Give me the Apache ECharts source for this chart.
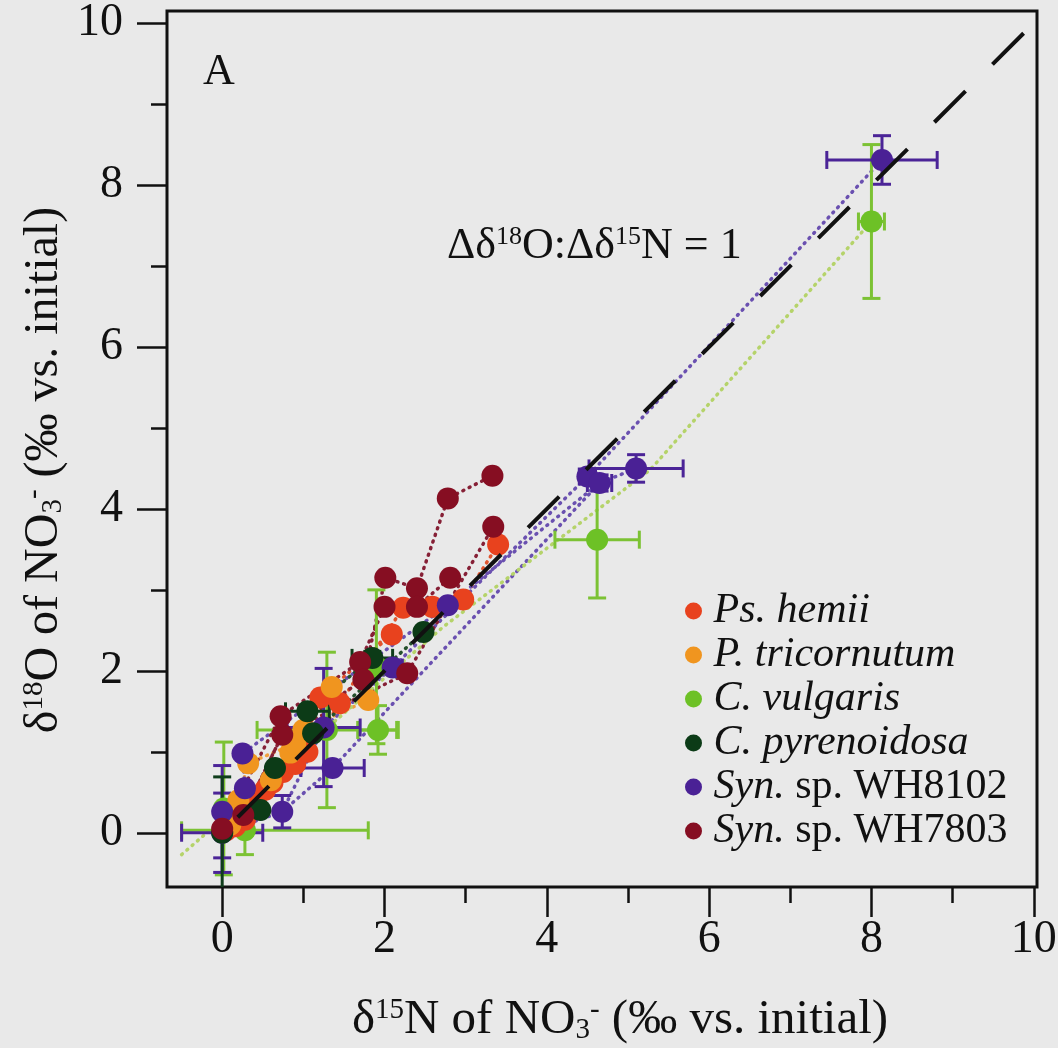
<!DOCTYPE html>
<html>
<head>
<meta charset="utf-8">
<script src="https://cdn.jsdelivr.net/npm/echarts@6/dist/echarts.min.js"></script>
<style>
  html, body { margin: 0; padding: 0; background: #e9e9e9; }
  #chart { width: 1058px; height: 1048px; }
</style>
</head>
<body>
<div id="chart"></div>
<script>
// Axis ticks (‰ vs. initial)
const xMajorTicks = [0, 2, 4, 6, 8, 10];
const xMinorTicks = [1, 3, 5, 7, 9];
const yMajorTicks = [0, 2, 4, 6, 8, 10];
const yMinorTicks = [1, 3, 5, 7, 9];

const speciesNames = ['Ps. hemii', 'P. tricornutum', 'C. vulgaris', 'C. pyrenoidosa', 'Syn. sp. WH8102', 'Syn. sp. WH7803'];

// Each point: [δ15N, δ18O, ±δ15N, ±δ18O]; an error may be [minus, plus]; 0 = no bar
const psHemii = [
  [0.05, 0.03, 0, 0], [0.16, 0.08, 0, 0], [0.28, 0.16, 0, 0], [0.42, 0.35, 0, 0],
  [0.53, 0.53, 0, 0], [0.62, 0.62, 0, 0], [0.75, 0.75, 0, 0], [0.90, 0.85, 0, 0],
  [1.05, 1.00, 0, 0], [1.21, 1.67, 0, 0], [1.45, 1.60, 0, 0], [2.09, 2.45, 0, 0],
  [2.23, 2.78, 0, 0], [2.59, 2.79, 0, 0], [2.97, 2.88, 0, 0], [3.40, 3.56, 0, 0]
];
const pTricornutum = [
  [0.10, 0.10, 0, 0], [0.20, 0.40, 0, 0], [0.32, 0.86, 0, 0], [0.60, 0.65, 0, 0],
  [0.84, 0.99, 0, 0], [0.90, 1.10, 0, 0], [1.00, 1.27, 0, 0], [1.35, 1.80, 0, 0],
  [1.80, 1.64, 0, 0]
];
const cVulgaris = [
  [0.02, 0.30, 0, 0.82], [0.28, 0.03, [0.78, 1.52], 0.30], [1.29, 1.27, 0.86, 0.96],
  [1.92, 1.27, 0.25, 0.30], [1.90, 2.05, 0.10, 0.95], [4.62, 3.62, 0.52, 0.72],
  [8.00, 7.55, 0.16, 0.95]
];
const cPyrenoidosa = [
  [0.00, 0.00, 0, 0.69], [0.47, 0.28, 0, 0], [0.65, 0.80, 0, 0], [1.05, 1.50, 0.27, 0],
  [1.12, 1.23, 0, 0], [1.85, 2.16, 0.25, 0.08], [2.48, 2.48, 0, 0]
];
const syn8102 = [
  [0.00, 0.00, 0.50, 0.49], [0.00, 0.26, 0, 0.57], [0.25, 0.98, 0, 0], [0.28, 0.55, 0, 0],
  [0.74, 0.26, 0, 0.20], [1.25, 1.30, 0.45, 0.73], [1.36, 0.80, 0.39, 0], [2.10, 2.04, 0.12, 0],
  [2.78, 2.81, 0, 0], [4.50, 4.40, 0.10, 0.08], [4.65, 4.32, 0.15, 0.10], [5.10, 4.50, 0.58, 0.17],
  [8.13, 8.31, 0.68, 0.30]
];
const syn7803 = [
  [0.00, 0.05, 0, 0], [0.26, 0.22, 0, 0], [0.74, 1.21, 0, 0], [0.72, 1.44, 0, 0],
  [1.70, 2.11, 0, 0], [1.74, 1.89, 0, 0], [2.01, 3.15, 0, 0], [2.40, 3.02, 0, 0],
  [2.78, 4.13, 0, 0], [3.33, 4.41, 0, 0], [2.00, 2.79, 0, 0], [2.40, 2.79, 0, 0],
  [2.81, 3.15, 0, 0], [3.34, 3.78, 0, 0], [2.28, 1.97, 0, 0]
];

// Culture runs: indices of the points joined by dotted lines
const psHemiiRuns = [[0, 2, 4, 6, 8, 10, 12, 13, 14, 15], [1, 3, 5, 7, 9, 11]];
const pTricornutumRuns = [[0, 1, 2, 5, 7], [0, 3, 4, 6, 8]];
const cPyrenoidosaRuns = [[0, 1, 2, 4, 6], [0, 2, 3, 5]];
const syn8102Runs = [[0, 4, 5, 7, 9, 12], [1, 3, 2, 8, 10, 11], [4, 6, 10]];
const syn7803Runs = [[0, 1, 2, 5, 6, 7, 8, 9], [0, 3, 4, 10, 11, 12], [1, 2, 14, 13]];

// C. vulgaris trend and the 1:1 reference line
const cVulgarisTrend = [[-0.5, -0.27], [2.72, 2.54], [5.27, 4.48], [8.0, 7.55]];
const oneToOne = [[0, 0], [9.9, 9.9]];

const serif = "'Liberation Serif', 'Times New Roman', serif";
const ink = '#111111';

const species = [
  { name: 'C. vulgaris',     pts: cVulgaris,     runs: [],               color: '#6dc126', line: '#b5d36a', err: '#7cc234' },
  { name: 'Ps. hemii',       pts: psHemii,       runs: psHemiiRuns,      color: '#e8421e', line: '#e0552e', err: '#e8421e' },
  { name: 'P. tricornutum',  pts: pTricornutum,  runs: pTricornutumRuns, color: '#f0951f', line: '#f0a040', err: '#f0951f' },
  { name: 'Syn. sp. WH8102', pts: syn8102,       runs: syn8102Runs,      color: '#4a2195', line: '#6a50b0', err: '#4b2497' },
  { name: 'C. pyrenoidosa',  pts: cPyrenoidosa,  runs: cPyrenoidosaRuns, color: '#0c3b17', line: '#24502c', err: '#0f3d1b' },
  { name: 'Syn. sp. WH7803', pts: syn7803,       runs: syn7803Runs,      color: '#860e22', line: '#862036', err: '#860e22' }
];

const pair = e => Array.isArray(e) ? e : [e, e];

function errorBars(sp) {
  const rows = sp.pts
    .filter(p => pair(p[2])[1] > 0 || pair(p[3])[1] > 0)
    .map(p => [p[0], p[1], ...pair(p[2]), ...pair(p[3])]);
  return {
    type: 'custom',
    id: 'err-' + sp.name,
    z: 2,
    clip: true,
    data: rows,
    encode: { x: 0, y: 1 },
    renderItem(params, api) {
      const x = api.value(0), y = api.value(1);
      const xm = api.value(2), xp = api.value(3), ym = api.value(4), yp = api.value(5);
      const style = { stroke: sp.err, lineWidth: 3 };
      const cap = 9;
      const kids = [];
      const seg = (x1, y1, x2, y2) => kids.push({ type: 'line', shape: { x1, y1, x2, y2 }, style });
      if (xp > 0) {
        const a = api.coord([x - xm, y]), b = api.coord([x + xp, y]);
        seg(a[0], a[1], b[0], b[1]);
        seg(a[0], a[1] - cap, a[0], a[1] + cap);
        seg(b[0], b[1] - cap, b[0], b[1] + cap);
      }
      if (yp > 0) {
        const a = api.coord([x, y - ym]), b = api.coord([x, y + yp]);
        seg(a[0], a[1], b[0], b[1]);
        seg(a[0] - cap, a[1], a[0] + cap, a[1]);
        seg(b[0] - cap, b[1], b[0] + cap, b[1]);
      }
      return { type: 'group', children: kids };
    }
  };
}

function dottedLine(id, data, color) {
  return {
    type: 'line', id, data, z: 1, symbol: 'none', silent: true,
    lineStyle: { color, width: 3.5, type: [1, 6], cap: 'round' }
  };
}

const series = [];
species.forEach(sp => {
  sp.runs.forEach((run, k) => {
    series.push(dottedLine('run-' + sp.name + k, run.map(i => [sp.pts[i][0], sp.pts[i][1]]), sp.line));
  });
});
series.push(dottedLine('trend-vulgaris', cVulgarisTrend, '#b5d36a'));
species.forEach(sp => series.push(errorBars(sp)));
species.forEach(sp => {
  series.push({
    type: 'scatter', name: sp.name, z: 3,
    symbol: 'circle', symbolSize: 22,
    itemStyle: { color: sp.color, opacity: 1 },
    data: sp.pts.map(p => [p[0], p[1]])
  });
});
series.push({
  type: 'line', id: 'one-to-one', data: oneToOne, z: 4, symbol: 'none', silent: true,
  lineStyle: { color: ink, width: 4, type: [44, 38], dashOffset: 60 }
});

const tickLine = { color: ink, width: 2.5 };
const labelStyle = { fontFamily: serif, fontSize: 46, color: ink };

function axisPair(dim, min, max, major, minor, margin) {
  const pos = dim === 'x' ? 'bottom' : 'left';
  return [
    {
      type: 'value', min, max, position: pos,
      splitLine: { show: false }, axisLine: { show: false, onZero: false },
      axisTick: { show: true, inside: false, customValues: major, length: 30, lineStyle: tickLine },
      axisLabel: Object.assign({ customValues: major, margin }, labelStyle)
    },
    {
      type: 'value', min, max, position: pos,
      splitLine: { show: false }, axisLine: { show: false, onZero: false },
      axisTick: { show: true, inside: false, customValues: minor, length: 16, lineStyle: tickLine },
      axisLabel: { show: false }
    }
  ];
}

// Rich-text styles with raised superscripts and lowered subscripts
function richText(size) {
  const s = Math.round(size * 0.6);
  return {
    t:   { fontFamily: serif, fontSize: size, lineHeight: size, padding: [12, 0, 12, 0], fill: ink },
    sup: { fontFamily: serif, fontSize: s, lineHeight: s, verticalAlign: 'top', fill: ink },
    sub: { fontFamily: serif, fontSize: s, lineHeight: s, verticalAlign: 'bottom', fill: ink }
  };
}

const option = {
  backgroundColor: '#e9e9e9',
  animation: false,
  grid: {
    left: 167, top: 11, right: 21, bottom: 161,
    show: true, borderColor: ink, borderWidth: 3, backgroundColor: 'transparent',
    outerBoundsMode: 'none'
  },
  xAxis: axisPair('x', -0.68, 10.04, xMajorTicks, xMinorTicks, 30),
  yAxis: axisPair('y', -0.67, 10.15, yMajorTicks, yMinorTicks, 44),
  legend: {
    data: speciesNames,
    orient: 'vertical',
    left: 680, top: 585,
    itemWidth: 30, itemHeight: 17, itemGap: 2,
    icon: 'circle',
    selectedMode: false,
    formatter: name => name.startsWith('Syn.')
      ? '{i|Syn.}{n|' + name.slice(4) + '}'
      : '{i|' + name + '}',
    textStyle: {
      color: ink,
      rich: {
        i: { fontFamily: serif, fontStyle: 'italic', fontSize: 42, lineHeight: 44, color: ink },
        n: { fontFamily: serif, fontSize: 42, lineHeight: 44, color: ink }
      }
    }
  },
  graphic: [
    {
      type: 'text', x: 203, y: 72, z: 10,
      style: { text: 'A', fontFamily: serif, fontSize: 44, fill: ink, align: 'left', verticalAlign: 'middle' }
    },
    {
      type: 'text', x: 447, y: 246, z: 10,
      style: {
        text: '{t|Δδ}{sup|18}{t|O:Δδ}{sup|15}{t|N = 1}',
        rich: richText(44), align: 'left', verticalAlign: 'middle'
      }
    },
    {
      type: 'text', x: 620, y: 1020, z: 10,
      style: {
        text: '{t|δ}{sup|15}{t|N of NO}{sub|3}{sup|-}{t| (‰ vs. initial)}',
        rich: richText(49), align: 'center', verticalAlign: 'middle'
      }
    },
    {
      type: 'text', x: 44, y: 470, z: 10, rotation: Math.PI / 2,
      style: {
        text: '{t|δ}{sup|18}{t|O of NO}{sub|3}{sup|-}{t| (‰ vs. initial)}',
        rich: richText(48), align: 'center', verticalAlign: 'middle'
      }
    }
  ],
  series
};

const chart = echarts.init(document.getElementById('chart'));
chart.setOption(option);
</script>
</body>
</html>
